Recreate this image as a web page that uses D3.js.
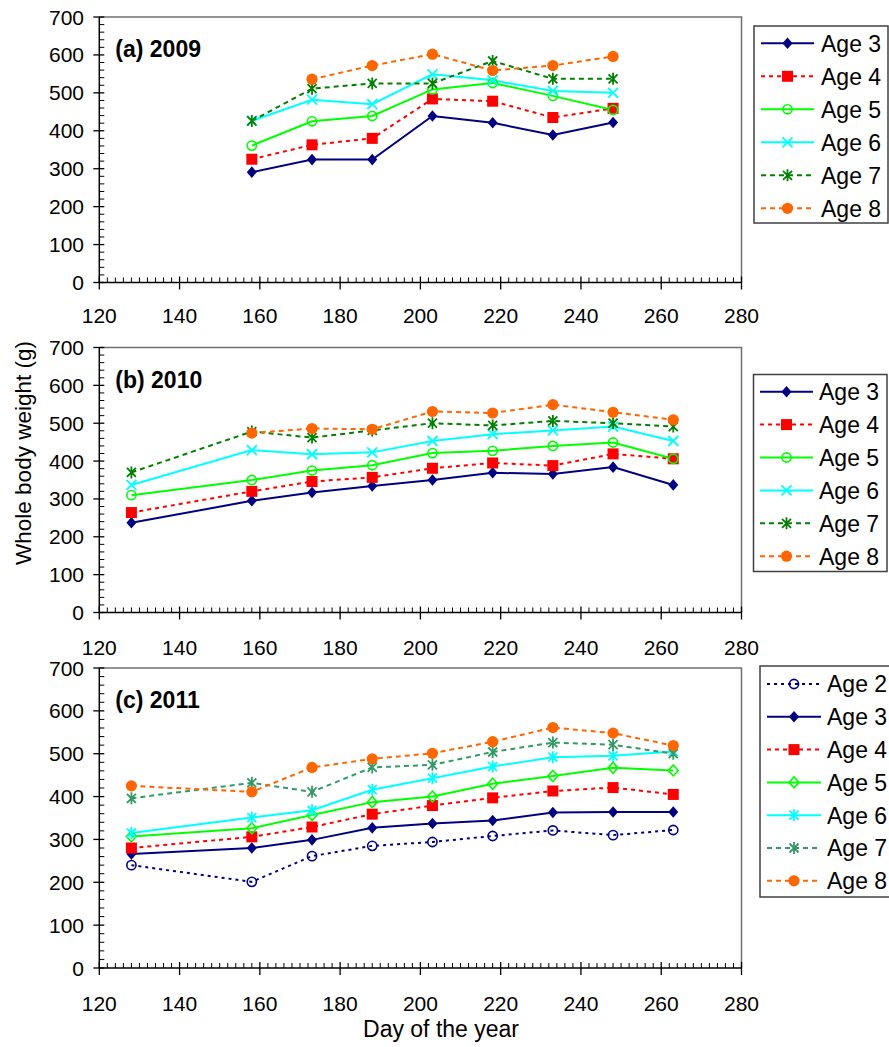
<!DOCTYPE html>
<html><head><meta charset="utf-8">
<script src="https://cdn.jsdelivr.net/npm/d3@7"></script>
<style>
body{margin:0;background:#fff}
svg{display:block}
text{font-family:"Liberation Sans",Arial,Helvetica,sans-serif;fill:#000}
</style>
</head><body>
<svg id="chart" width="889" height="1047"></svg>
<script>
// ---------- data ----------
const xTicks = [120,140,160,180,200,220,240,260,280];
const yTicks = [0,100,200,300,400,500,600,700];

const days2009 = [158,173,188,203,218,233,248];
const age3_2009 = [291,324,324,439,421,389,422];
const age4_2009 = [325,363,380,484,478,435,459];
const age5_2009 = [361,425,439,509,526,492,455];
const age6_2009 = [426,482,470,549,533,505,500];
const age7_2009 = [426,511,525,525,584,537,537];
const age8_2009 = [null,536,572,602,559,572,596];

const days2010 = [128,158,173,188,203,218,233,248,263];
const age3_2010 = [237,295,317,334,350,369,366,384,337];
const age4_2010 = [264,320,346,357,381,395,388,419,406];
const age5_2010 = [310,350,375,389,421,427,440,449,406];
const age6_2010 = [337,429,418,423,453,471,481,491,453];
const age7_2010 = [370,478,462,481,500,494,506,500,491];
const age8_2010 = [null,474,486,484,531,527,549,529,509];

const days2011 = [128,158,173,188,203,218,233,248,263];
const age2_2011 = [240,201,261,285,294,308,321,310,322];
const age3_2011 = [266,280,299,327,337,344,363,364,364];
const age4_2011 = [280,306,329,359,379,397,413,421,405];
const age5_2011 = [307,326,357,387,400,430,448,467,461];
const age6_2011 = [315,351,368,416,443,470,492,495,505];
const age7_2011 = [396,432,411,468,474,504,526,521,500];
const age8_2011 = [425,411,468,488,501,528,561,548,519];

const panelLabels = ["(a) 2009","(b) 2010","(c) 2011"];
const yTitle = "Whole body weight (g)";
const xTitle = "Day of the year";

// ---------- styles ----------
const NAVY="#000080", RED="#FF0000", LIME="#00FF00", CYAN="#00FFFF", DGREEN="#008000", SEAGREEN="#339966", ORANGE="#FF6600";

const panels = [
  {label: panelLabels[0], days: days2009, top: 17, bottom: 282.5,
   legend: {x:754, y:26, w:134, h:197, row0:43.3, step:33, lx0:761, lx1:814, tx:821},
   series: [
     {name:"Age 3", values: age3_2009, color:NAVY, dash:null, marker:"diamond"},
     {name:"Age 4", values: age4_2009, color:RED, dash:"4,4", marker:"square"},
     {name:"Age 5", values: age5_2009, color:LIME, dash:null, marker:"openCircle"},
     {name:"Age 6", values: age6_2009, color:CYAN, dash:null, marker:"x"},
     {name:"Age 7", values: age7_2009, color:DGREEN, dash:"5,4", marker:"asterisk"},
     {name:"Age 8", values: age8_2009, color:ORANGE, dash:"5,4", marker:"circle"}
   ]},
  {label: panelLabels[1], days: days2010, top: 347.5, bottom: 612.5,
   legend: {x:753.5, y:374.5, w:133.5, h:197, row0:391.7, step:32.9, lx0:760, lx1:813, tx:819},
   series: [
     {name:"Age 3", values: age3_2010, color:NAVY, dash:null, marker:"diamond"},
     {name:"Age 4", values: age4_2010, color:RED, dash:"4,4", marker:"square"},
     {name:"Age 5", values: age5_2010, color:LIME, dash:null, marker:"openCircle"},
     {name:"Age 6", values: age6_2010, color:CYAN, dash:null, marker:"x"},
     {name:"Age 7", values: age7_2010, color:DGREEN, dash:"5,4", marker:"asterisk"},
     {name:"Age 8", values: age8_2010, color:ORANGE, dash:"5,4", marker:"circle"}
   ]},
  {label: panelLabels[2], days: days2011, top: 668, bottom: 968,
   legend: {x:760, y:666, w:140, h:231, row0:684, step:32.8, lx0:767, lx1:821, tx:827},
   series: [
     {name:"Age 2", values: age2_2011, color:NAVY, dash:"3,4", marker:"openCircle"},
     {name:"Age 3", values: age3_2011, color:NAVY, dash:null, marker:"diamond"},
     {name:"Age 4", values: age4_2011, color:RED, dash:"4,4", marker:"square"},
     {name:"Age 5", values: age5_2011, color:LIME, dash:null, marker:"openDiamond"},
     {name:"Age 6", values: age6_2011, color:CYAN, dash:null, marker:"asterisk"},
     {name:"Age 7", values: age7_2011, color:SEAGREEN, dash:"5,4", marker:"asterisk"},
     {name:"Age 8", values: age8_2011, color:ORANGE, dash:"5,4", marker:"circle"}
   ]}
];

const svg = d3.select("#chart");
const x = d3.scaleLinear().domain([120,280]).range([99.3,741.5]);
const FONT_TICK = 21;

function drawMarker(g, type, color, cx, cy){
  const t = `translate(${cx},${cy})`;
  switch(type){
    case "diamond":
      g.append("path").attr("transform",t).attr("d","M0,-5.8L5,0L0,5.8L-5,0Z").attr("fill",color); break;
    case "openDiamond":
      g.append("path").attr("transform",t).attr("d","M0,-5.5L5,0L0,5.5L-5,0Z").attr("fill","none").attr("stroke",color).attr("stroke-width",1.6); break;
    case "square":
      g.append("rect").attr("x",cx-5.5).attr("y",cy-5.5).attr("width",11).attr("height",11).attr("fill",color); break;
    case "circle":
      g.append("circle").attr("cx",cx).attr("cy",cy).attr("r",5.6).attr("fill",color); break;
    case "openCircle":
      g.append("circle").attr("cx",cx).attr("cy",cy).attr("r",4.6).attr("fill","none").attr("stroke",color).attr("stroke-width",1.6); break;
    case "x":
      g.append("path").attr("transform",t).attr("d","M-5,-5L5,5M-5,5L5,-5").attr("stroke",color).attr("stroke-width",1.8).attr("fill","none"); break;
    case "asterisk":
      g.append("path").attr("transform",t).attr("d","M-4.5,-4.5L4.5,4.5M-4.5,4.5L4.5,-4.5M0,-6L0,6").attr("stroke",color).attr("stroke-width",1.8).attr("fill","none"); break;
  }
}

panels.forEach((p, pi) => {
  const y = d3.scaleLinear().domain([0,700]).range([p.bottom,p.top]);
  const g = svg.append("g");
  const x0 = x.range()[0], x1 = x.range()[1];

  // frame (top/right)
  g.append("path").attr("d",`M${x0},${p.top}H${x1}V${p.bottom}`).attr("fill","none").attr("stroke","#707070").attr("stroke-width",1.5);

  // minor ticks
  const xMinor = d3.range(122,280,2).filter(v => v % 20 !== 0);
  g.selectAll(null).data(xMinor).join("line")
    .attr("x1",d=>x(d)).attr("x2",d=>x(d)).attr("y1",p.bottom).attr("y2",p.bottom-5)
    .attr("stroke","#000").attr("stroke-width",1);
  const yMinor = d3.range(20,700,20).filter(v => v % 100 !== 0);
  g.selectAll(null).data(yMinor).join("line")
    .attr("y1",d=>y(d)).attr("y2",d=>y(d)).attr("x1",x0).attr("x2",x0+5)
    .attr("stroke","#000").attr("stroke-width",1);

  // major ticks
  g.selectAll(null).data(xTicks).join("line")
    .attr("x1",d=>x(d)).attr("x2",d=>x(d)).attr("y1",p.bottom-6).attr("y2",p.bottom+7)
    .attr("stroke","#000").attr("stroke-width",1.3);
  g.selectAll(null).data(yTicks).join("line")
    .attr("y1",d=>y(d)).attr("y2",d=>y(d)).attr("x1",x0-6).attr("x2",x0+5)
    .attr("stroke","#000").attr("stroke-width",1.3);

  // axis lines
  g.append("line").attr("x1",x0).attr("x2",x1).attr("y1",p.bottom).attr("y2",p.bottom).attr("stroke","#000").attr("stroke-width",1.5);
  g.append("line").attr("x1",x0).attr("x2",x0).attr("y1",p.top).attr("y2",p.bottom).attr("stroke","#000").attr("stroke-width",1.5);

  // tick labels
  g.selectAll(null).data(xTicks).join("text")
    .attr("x",d=>x(d)).attr("y",p.bottom + (pi===0 ? 40.5 : 42.5)).attr("text-anchor","middle")
    .style("font-size",FONT_TICK+"px").text(d=>d);
  g.selectAll(null).data(yTicks).join("text")
    .attr("x",84).attr("y",d=>y(d)+7.5).attr("text-anchor","end")
    .style("font-size",FONT_TICK+"px").text(d=>d);

  // panel label
  g.append("text").attr("x",x0+16).attr("y",p.top+40).style("font-size","23px").style("font-weight","bold").text(p.label);

  // series
  const line = d3.line().defined(d=>d.v!=null).x(d=>x(d.d)).y(d=>y(d.v));
  p.series.forEach(s => {
    const pts = p.days.map((d,i)=>({d:d, v:s.values[i]}));
    g.append("path").datum(pts).attr("d",line).attr("fill","none")
      .attr("stroke",s.color).attr("stroke-width",2)
      .attr("stroke-dasharray",s.dash);
  });
  p.series.forEach(s => {
    const pts = p.days.map((d,i)=>({d:d, v:s.values[i]})).filter(d=>d.v!=null);
    pts.forEach(pt => drawMarker(g, s.marker, s.color, x(pt.d), y(pt.v)));
  });

  // legend
  const L = p.legend;
  g.append("rect").attr("x",L.x).attr("y",L.y).attr("width",L.w).attr("height",L.h)
    .attr("fill","#fff").attr("stroke","#404040").attr("stroke-width",1.5);
  p.series.forEach((s,i) => {
    const ry = L.row0 + i*L.step;
    g.append("line").attr("x1",L.lx0).attr("x2",L.lx1).attr("y1",ry).attr("y2",ry)
      .attr("stroke",s.color).attr("stroke-width",2).attr("stroke-dasharray",s.dash);
    drawMarker(g, s.marker, s.color, (L.lx0+L.lx1)/2, ry);
    g.append("text").attr("x",L.tx).attr("y",ry+8.3).style("font-size","23px").text(s.name);
  });
});

// axis titles
svg.append("text").attr("transform","translate(31,453) rotate(-90)").attr("text-anchor","middle")
  .style("font-size","22.5px").text(yTitle);
svg.append("text").attr("x",441).attr("y",1037).attr("text-anchor","middle")
  .style("font-size","23px").text(xTitle);
</script>
</body></html>
